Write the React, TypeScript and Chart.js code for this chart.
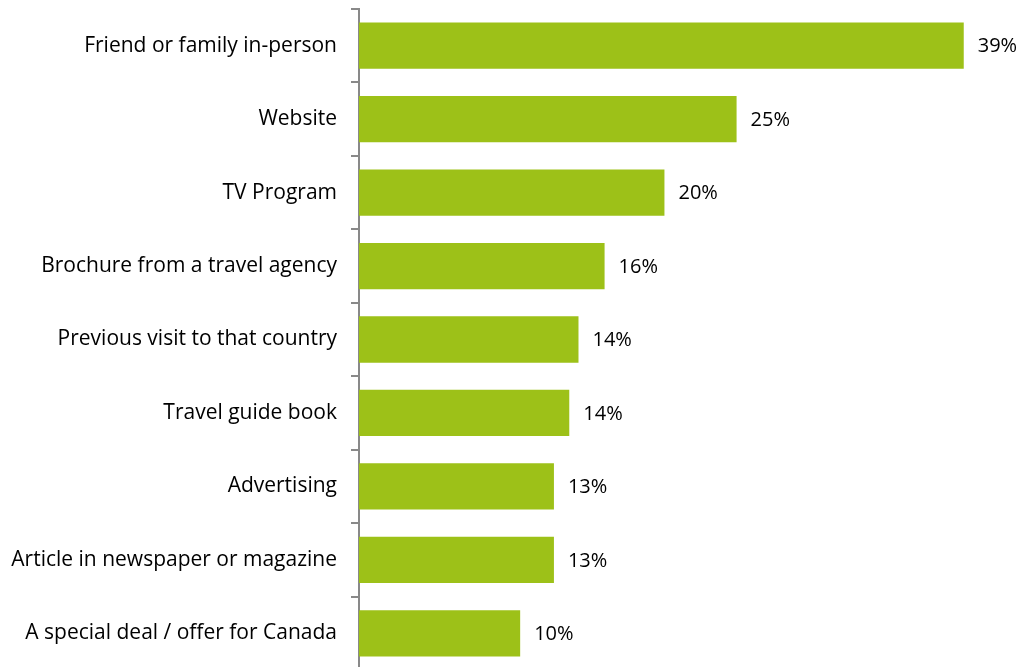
import React, { useEffect, useRef } from "react";
import { Chart, registerables } from "chart.js";

Chart.register(...registerables);

const categories = [
  "Friend or family in-person",
  "Website",
  "TV Program",
  "Brochure from a travel agency",
  "Previous visit to that country",
  "Travel guide book",
  "Advertising",
  "Article in newspaper or magazine",
  "A special deal / offer for Canada",
];
const values = [39.4, 24.6, 19.9, 16.0, 14.3, 13.7, 12.7, 12.7, 10.5];
const valueLabels = ["39%", "25%", "20%", "16%", "14%", "14%", "13%", "13%", "10%"];

const FONT = "'Open Sans', 'Noto Sans', sans-serif";

const labelPlugin = {
  id: "barValueLabels",
  afterDatasetsDraw(chart: any) {
    const ctx = chart.ctx;
    const meta = chart.getDatasetMeta(0);
    ctx.save();
    ctx.font = `20px ${FONT}`;
    ctx.fillStyle = "#000000";
    ctx.textAlign = "left";
    ctx.textBaseline = "middle";
    meta.data.forEach((bar: any, i: number) => {
      ctx.fillText(valueLabels[i], bar.x + 14, bar.y + 1);
    });
    ctx.restore();
  },
};

export default function App() {
  const ref = useRef<HTMLCanvasElement>(null);
  useEffect(() => {
    if (!ref.current) return;
    const chart = new Chart(ref.current, {
      type: "bar",
      data: {
        labels: categories,
        datasets: [
          {
            data: values,
            backgroundColor: "#9DC118",
            borderWidth: 0,
            barPercentage: 0.63,
            categoryPercentage: 1,
          },
        ],
      },
      options: {
        indexAxis: "y",
        animation: false,
        responsive: true,
        maintainAspectRatio: false,
        layout: { padding: { top: 9, right: 8, bottom: 0, left: 0 } },
        plugins: { legend: { display: false }, tooltip: { enabled: false } },
        scales: {
          x: {
            display: false,
            min: 0,
            max: 43,
          },
          y: {
            afterFit(scale: any) {
              scale.width = 359;
              scale.paddingTop = 0;
              scale.paddingBottom = 0;
            },
            border: { display: true, color: "#898989", width: 2 },
            grid: {
              display: true,
              offset: true,
              drawOnChartArea: false,
              drawTicks: true,
              tickLength: 8,
              color: "#898989",
              lineWidth: 2,
            },
            ticks: {
              color: "#000000",
              padding: 14,
              font: { family: FONT, size: 21 },
            },
          },
        },
      },
      plugins: [labelPlugin],
    });
    return () => chart.destroy();
  }, []);
  return (
    <div style={{ position: "fixed", left: 0, top: 0, width: 1027, height: 670, background: "#fff" }}>
      <canvas ref={ref} />
    </div>
  );
}
